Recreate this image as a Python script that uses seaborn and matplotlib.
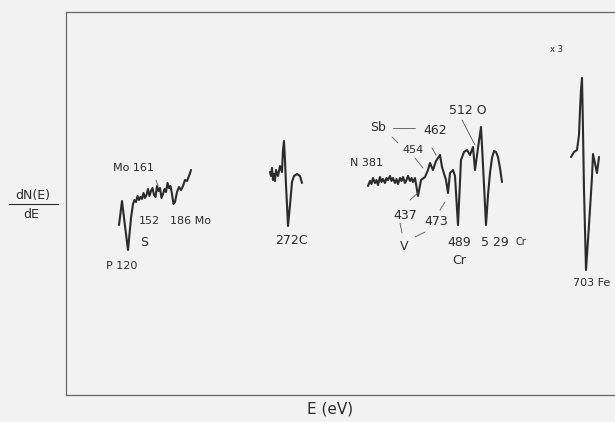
import numpy as np
import pandas as pd
import seaborn as sns
import matplotlib.pyplot as plt
from matplotlib.lines import Line2D

# trace positions along the recorder chart (arbitrary units) and dN/dE signal
seg_pmo_x = [119, 122, 125, 128, 131, 133, 134.5, 136, 137.5, 139, 140.5, 142, 143.5,
             145, 146.5, 148, 149.5, 151, 152.5, 154, 155.5, 157, 158.5, 160, 161.5,
             163, 164.5, 166, 167.5, 169, 170.5, 172, 173.5, 175, 177, 179, 181,
             183, 185, 187, 189, 191]
seg_pmo_y = [-25, -1, -26, -50, -18, -4, 0, -2, 4, 0, 3, 1, 7,
             2, 5, 11, 4, 9, 12, 5, 3, 14, 9, 12, 2,
             6, 11, 8, 17, 12, 14, 6, -4, -2, 8, 13, 10,
             14, 20, 19, 24, 30]

seg_c_x = [270, 271, 272, 273, 274, 275, 276, 278, 280, 282, 283, 284, 285, 286,
           287, 288, 290, 292, 294, 297, 300, 302]
seg_c_y = [28, 24, 32, 20, 26, 19, 30, 24, 34, 28, 50, 59, 40, 15,
           -5, -26, -5, 18, 24, 26, 24, 17]

seg_ncr_x = [368, 370, 371.5, 373, 375, 376.5, 378, 380, 381.5, 383, 385, 386.5,
             388, 390, 391.5, 393, 395, 396.5, 398, 400, 401.5, 403, 405, 406.5,
             408, 410, 411.5, 413, 415, 418, 421, 425, 428, 430, 433, 436, 440,
             442, 446, 448, 450, 453, 455, 458, 461, 464, 467, 470, 473, 475,
             478, 481, 483, 486, 488, 490, 492, 494, 496, 498, 500, 502]
seg_ncr_y = [14, 19, 16, 22, 17, 20, 15, 23, 18, 21, 17, 22, 20, 24, 19, 22, 17,
             21, 16, 22, 19, 23, 17, 20, 24, 19, 22, 18, 22, 4, 20, 23, 30, 37,
             30, 39, 45, 33, 20, 7, 27, 30, 24, -25, 40, 48, 50, 45, 53, 30,
             52, 73, 35, -25, 5, 27, 42, 49, 48, 43, 32, 18]

seg_fe_x = [571, 574, 577, 579, 580, 581, 582, 583, 584, 586, 589, 592, 593, 597, 599]
seg_fe_y = [43, 48, 50, 65, 90, 110, 122, 70, 10, -70, -25, 23, 46, 27, 43]

segments = {"P-Mo": (seg_pmo_x, seg_pmo_y), "C": (seg_c_x, seg_c_y),
            "N-Cr": (seg_ncr_x, seg_ncr_y), "Fe": (seg_fe_x, seg_fe_y)}

# peak labels: text, x, y, size
peak_labels = [("Mo 161", 133, 32, 8), ("152", 149, -21, 8), ("186 Mo", 190, -21, 8),
               ("S", 144, -42, 9), ("P 120", 122, -66, 8), ("272C", 291, -40, 9),
               ("N 381", 366, 37, 8), ("Sb", 378, 73, 9), ("462", 435, 70, 9),
               ("512 O", 468, 90, 9), ("454", 413, 50, 8), ("437", 405, -15, 9),
               ("V", 404, -46, 9), ("473", 436, -21, 9), ("489", 459, -42, 9),
               ("Cr", 459, -60, 9), ("5 29", 495, -42, 9), ("Cr", 521, -42, 7),
               ("703 Fe", 592, -83, 8), ("x 3", 556, 151, 6)]

# leader lines: (x0, y0, x1, y1)
leaders = [(156, 20, 158, 14), (393, 72, 415, 72), (432, 52, 436, 45),
           (462, 80, 475, 55), (392, 63, 398, 57), (415, 42, 423, 32),
           (410, 0, 418, 7), (400, -23, 402, -33), (415, -37, 425, -32),
           (440, -10, 445, -2)]

sns.set_style("white")
plt.rcParams['font.family'] = ['Liberation Sans Narrow', 'DejaVu Sans']
bg = '#f2f2f2'
ink = '#2b2b2b'

fig = plt.figure(figsize=(6.15, 4.22), dpi=100, facecolor=bg)
W, H = 615, 422
ax = fig.add_axes([66 / W, (H - 395) / H, (640 - 66) / W, (395 - 12) / H])
ax.set_facecolor(bg)

for name, (xs, ys) in segments.items():
    df = pd.DataFrame({'x': xs, 'y': ys})
    sns.lineplot(data=df, x='x', y='y', sort=False, estimator=None,
                 color=ink, linewidth=1.5, ax=ax)

for x0, y0, x1, y1 in leaders:
    ax.plot([x0, x1], [y0, y1], color='#555555', linewidth=0.6)

for txt, x, y, size in peak_labels:
    ax.text(x, y, txt, ha='center', va='center', fontsize=size, color=ink)

ax.set_xlim(66, 640)
ax.set_ylim(-195, 188)
ax.set_xticks([])
ax.set_yticks([])
ax.set_xlabel('')
ax.set_ylabel('')
for s in ax.spines.values():
    s.set_color('#666666')
    s.set_linewidth(0.9)

# y label as a fraction dN(E)/dE
fig.text(33 / W, 1 - 196 / H, 'dN(E)', ha='center', va='center', fontsize=9, color=ink)
fig.text(31 / W, 1 - 214 / H, 'dE', ha='center', va='center', fontsize=9, color=ink)
fig.add_artist(Line2D([9 / W, 58 / W], [1 - 204 / H, 1 - 204 / H],
                      transform=fig.transFigure, color=ink, linewidth=0.8))
fig.text(330 / W, 1 - 409 / H, 'E (eV)', ha='center', va='center', fontsize=11, color=ink)

fig.savefig('out.png', dpi=100, facecolor=bg)
